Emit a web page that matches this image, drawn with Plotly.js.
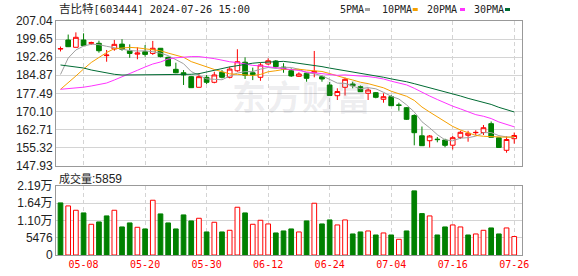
<!DOCTYPE html>
<html><head><meta charset="utf-8">
<script src="https://cdn.plot.ly/plotly-3.0.1.min.js"></script>
<style>html,body{margin:0;padding:0;background:#fff;overflow:hidden}#chart{width:578px;height:276px}</style>
</head><body><div id="chart"></div>
<script>
// ---- data ----
const dates = ['04-30','05-06','05-07','05-08','05-09','05-10','05-13','05-14','05-15','05-16',
  '05-17','05-20','05-21','05-22','05-23','05-24','05-27','05-28','05-29','05-30',
  '05-31','06-03','06-04','06-05','06-06','06-07','06-11','06-12','06-13','06-14',
  '06-17','06-18','06-19','06-20','06-21','06-24','06-25','06-26','06-27','06-28',
  '07-01','07-02','07-03','07-04','07-05','07-08','07-09','07-10','07-11','07-12',
  '07-15','07-16','07-17','07-18','07-19','07-22','07-23','07-24','07-25','07-26'];
const openP = [195.60,199.28,196.30,199.28,197.93,197.93,192.90,195.60,197.60,194.90,
  193.50,194.50,193.80,195.90,192.20,187.30,185.90,184.30,179.96,184.04,
  182.00,186.10,184.04,186.70,190.20,185.90,184.04,189.50,190.70,188.20,
  186.70,184.45,185.68,185.92,184.29,180.90,176.53,179.96,181.30,180.20,
  177.50,177.75,175.05,176.12,172.75,171.62,168.44,160.14,158.14,158.76,
  158.43,156.30,159.53,160.35,161.41,161.49,165.09,159.33,154.22,158.96];
const highP = [196.60,201.50,202.40,202.00,198.60,199.00,195.20,199.30,199.60,197.50,
  196.30,197.20,198.90,196.00,192.50,190.00,187.00,184.60,185.70,185.00,
  186.30,187.00,188.40,195.50,192.20,188.00,190.00,191.80,191.10,189.80,
  187.70,186.08,186.00,194.80,184.80,182.10,179.55,183.90,182.24,180.70,
  179.55,178.04,177.50,176.81,173.66,171.90,168.93,163.94,160.47,159.65,
  158.96,160.06,162.19,162.19,162.43,164.56,165.99,159.45,159.94,161.49];
const lowP = [194.60,196.40,196.20,196.90,197.24,194.10,190.40,194.90,194.90,192.00,
  191.40,192.50,193.20,192.20,188.60,185.70,180.90,179.80,179.90,181.30,
  181.60,183.60,183.60,186.30,183.35,182.90,182.60,189.07,187.70,185.90,
  184.20,184.16,182.24,184.04,182.24,176.40,174.77,176.60,179.55,178.04,
  174.77,175.46,173.66,172.32,170.40,166.60,156.26,156.00,155.37,157.49,
  155.45,154.55,158.84,157.73,160.47,160.47,159.50,155.29,153.24,156.94];
const closeP = [195.75,196.54,200.38,196.95,198.17,194.90,193.10,197.50,195.50,193.80,
  193.96,193.40,195.90,192.50,188.70,185.90,185.00,179.80,184.30,182.00,
  185.00,184.04,187.40,190.40,184.90,185.10,189.07,190.80,188.40,187.40,
  184.60,185.39,183.63,186.49,183.35,176.60,178.24,183.22,180.60,178.16,
  178.85,175.87,176.12,172.44,172.60,166.88,161.41,156.10,160.06,158.59,
  156.26,159.37,161.57,161.20,161.53,163.45,159.53,155.37,158.63,160.27];
const prevClose = 196.50; // close of the day before the first bar
const volume = [16536,15582,14204,13356,9752,10494,12402,14204,8904,10176,
  8798,8268,17384,13038,10176,8268,12720,10812,11660,7314,
  10388,7314,7844,15158,13356,9752,11024,9858,6996,7632,
  8268,7314,10812,16430,9858,11130,9540,11130,6678,7314,
  7632,6360,6996,6360,4982,7632,20352,13144,12402,6360,
  8904,9540,8904,6360,6678,7844,8586,6678,8586,5859];
// moving-average values before a full window exists inside the view
const ma5Lead = [185.2,191.9,195.2,196.8];
const ma10Lead = [179.14,181.71,184.57,187.43,190.09,192.13,194.17,195.72,195.89];
const ma20Lead = [179.14,179.38,179.67,180.00,180.49,181.02,181.71,182.94,184.37,185.59,
  186.90,188.25,189.47,190.29,191.52,192.00,192.30,192.50,192.50];
const ma30Lead = [189.07,188.66,188.25,187.84,187.02,186.41,185.80,185.27,184.98,184.98,
  184.98,184.98,184.98,184.98,184.98,185.10,185.19,185.27,185.51,186.30,
  186.90,187.60,188.30,188.90,189.40,189.80,190.10,190.30,190.45];
const maPeriods = [5,10,20,30];
const maNames = ['5PMA','10PMA','20PMA','30PMA'];
const priceTicks = [147.93,155.32,162.71,170.10,177.49,184.87,192.26,199.65,207.04];
const volTicks = [0,5476,10952,16428,21904];
const volTickText = ['0','5476','1.10万','1.64万','2.19万'];
const dateTicks = ['05-08','05-20','05-30','06-12','06-24','07-04','07-16','07-26'];
const stockTitle = '吉比特';
const titleRest = '[603444] 2024-07-26 15:00';
const volLabel = '成交量';
const lastVolume = 5859;
const watermark = '东方财富';

// ---- styles ----
const RED = '#ff0000', GREEN = '#008000';
const maColors = ['#a0a0a0','#f5a000','#ff33ff','#006b33'];
const MONO = 'DejaVu Sans Mono, Noto Sans CJK SC, monospace';
const CJK = 'Noto Sans CJK SC';

function movingAvg(n, lead){
  return closeP.map((c,i)=>{
    if(i < n-1) return lead[i];
    let s = 0; for(let k=i-n+1;k<=i;k++) s += closeP[k];
    return s/n;
  });
}
const leads = [ma5Lead, ma10Lead, ma20Lead, ma30Lead];

const upDay = closeP.map((c,i)=> c >= (i===0 ? prevClose : closeP[i-1]));

const traces = [];
traces.push({
  type:'candlestick', x:dates, open:openP, high:highP, low:lowP, close:closeP,
  xaxis:'x', yaxis:'y', hoverinfo:'skip',
  increasing:{line:{color:RED,width:1}, fillcolor:'#ffffff'},
  decreasing:{line:{color:GREEN,width:1}, fillcolor:GREEN},
  whiskerwidth:0
});
maPeriods.forEach((n,j)=>{
  traces.push({type:'scatter', mode:'lines', x:dates, y:movingAvg(n,leads[j]),
    xaxis:'x', yaxis:'y', line:{color:maColors[j], width:1}, hoverinfo:'skip'});
});
traces.push({
  type:'bar', x:dates, y:volume, xaxis:'x2', yaxis:'y2', hoverinfo:'skip',
  marker:{color:upDay.map(u=>u?'#ffffff':GREEN), line:{color:upDay.map(u=>u?RED:GREEN), width:1}}
});

// pixel -> paper helpers for text placed outside the plots
const L=56, R=56, T=21, B=21, W=578, H=276;
const pw = W-L-R, ph = H-T-B;
const px = v => (v-L)/pw;
const py = v => (H-B-v)/ph;

const grid = '#d4d4d4', frame = '#999999';
const xCommon = {type:'category', range:[-0.585,60.01], tickvals:dateTicks, ticktext:dateTicks,
  showgrid:true, gridcolor:grid, griddash:'4px,3px', gridwidth:1, showline:true, mirror:true,
  linecolor:frame, linewidth:1, ticks:'', zeroline:false, fixedrange:true};

const annotations = [
  {xref:'paper', yref:'paper', x:px(57), y:py(8.5), xanchor:'left', yanchor:'middle', showarrow:false,
   text:'<span style="font-family:'+CJK+';font-size:11.5px">'+stockTitle+'</span>'+titleRest,
   font:{family:MONO, size:10.4, color:'#222'}},
  {xref:'paper', yref:'paper', x:px(57), y:py(177.5), xanchor:'left', yanchor:'middle', showarrow:false,
   text:'<span style="font-family:'+CJK+';font-size:11px">'+volLabel+'</span>:'+lastVolume,
   font:{family:'Liberation Sans, Arial', size:12, color:'#222'}},
  {xref:'paper', yref:'paper', x:px(301), y:py(95), xanchor:'center', yanchor:'middle', showarrow:false,
   text:watermark.split('').join('<span style="font-size:4px"> </span>'),
   font:{family:CJK, size:34, weight:700, color:'rgba(120,120,140,0.13)'}}
];
const legX = [338, 380, 425.3, 471.7];
const swX = [365, 412.7, 460, 505];
const shapes = [];
maNames.forEach((nm,j)=>{
  annotations.push({xref:'paper', yref:'paper', x:px(legX[j]), y:py(9.5), xanchor:'left', yanchor:'middle',
    showarrow:false, text:nm, font:{family:MONO, size:10, color:'#222'}});
  shapes.push({type:'rect', xref:'paper', yref:'paper', x0:px(swX[j]), x1:px(swX[j]+5),
    y0:py(11), y1:py(8), fillcolor:maColors[j], line:{width:0}});
});

const layout = {
  width:W, height:H, margin:{l:L, r:R, t:T, b:B, pad:0},
  paper_bgcolor:'#ffffff', plot_bgcolor:'#ffffff', showlegend:false, dragmode:false,
  boxgap:0.13, boxgroupgap:0.3, bargap:0.39,
  font:{family:'Liberation Sans, Arial, Noto Sans CJK SC', size:12, color:'#222'},
  xaxis:Object.assign({}, xCommon, {domain:[0,1], anchor:'y', showticklabels:false, rangeslider:{visible:false}}),
  yaxis:{domain:[py(165.7),1], range:[147.93,207.04], tickvals:priceTicks, ticktext:priceTicks.map(v=>v.toFixed(2)),
    showgrid:true, gridcolor:grid, showline:true, mirror:true, linecolor:frame, linewidth:1, ticks:'', zeroline:false,
    fixedrange:true, tickfont:{family:'Liberation Sans, Arial', size:12, color:'#222'}},
  xaxis2:Object.assign({}, xCommon, {domain:[0,1], anchor:'y2', showticklabels:true,
    tickfont:{family:MONO, size:10, color:RED}}),
  yaxis2:{domain:[0,py(186)], range:[0,21904], tickvals:volTicks, ticktext:volTickText,
    showgrid:true, gridcolor:grid, showline:true, mirror:true, linecolor:frame, linewidth:1, ticks:'', zeroline:false,
    fixedrange:true, tickfont:{family:'Liberation Sans, Arial, Noto Sans CJK SC', size:12, color:'#222'}},
  annotations:annotations, shapes:shapes
};
Plotly.newPlot('chart', traces, layout, {staticPlot:true, displayModeBar:false});
</script>
</body></html>
